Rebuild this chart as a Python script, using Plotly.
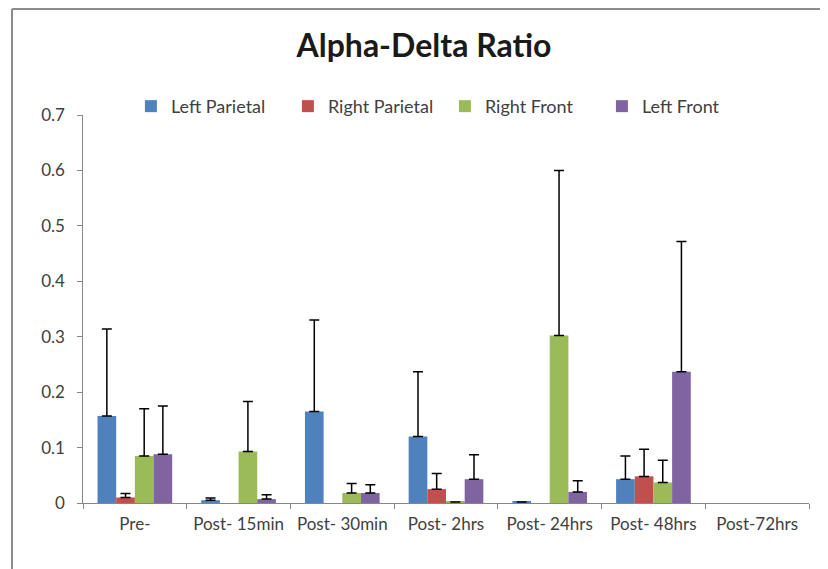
import plotly.graph_objects as go

categories = ["Pre-", "Post- 15min", "Post- 30min", "Post- 2hrs", "Post- 24hrs", "Post- 48hrs", "Post-72hrs"]
series_names = ["Left Parietal", "Right Parietal", "Right Front", "Left Front"]

left_parietal = [0.157, 0.005, 0.165, 0.120, 0.002, 0.043, None]
left_parietal_err = [0.157, 0.004, 0.165, 0.117, None, 0.042, None]

right_parietal = [0.010, None, None, 0.025, None, 0.048, None]
right_parietal_err = [0.007, None, None, 0.028, None, 0.049, None]

right_front = [0.085, 0.093, 0.018, 0.002, 0.302, 0.037, None]
right_front_err = [0.085, 0.090, 0.017, None, 0.298, 0.040, None]

left_front = [0.088, 0.007, 0.018, 0.043, 0.020, 0.237, None]
left_front_err = [0.087, 0.008, 0.015, 0.044, 0.020, 0.235, None]

values = [left_parietal, right_parietal, right_front, left_front]
errors = [left_parietal_err, right_parietal_err, right_front_err, left_front_err]
colors = ["#4F81BD", "#C0504D", "#9BBB59", "#8064A2"]

font_family = "Lato, 'Open Sans', sans-serif"

ML, MR, MT, MB = 75, 27, 107, 74
PW, PH = 828 - ML - MR, 569 - MT - MB

fig = go.Figure()
for name, vals, errs, col in zip(series_names, values, errors, colors):
    fig.add_trace(go.Bar(
        x=categories, y=vals, name=name,
        marker=dict(color=col, line=dict(width=0)),
        error_y=dict(type="data", symmetric=False, array=errs,
                     arrayminus=[0] * len(vals), color="black",
                     thickness=1.5, width=5),
    ))

fig.update_layout(
    width=828, height=569,
    paper_bgcolor="white", plot_bgcolor="white",
    margin=dict(l=ML, r=MR, t=MT, b=MB, autoexpand=False),
    barmode="group", bargap=0.28, bargroupgap=0,
    font=dict(family=font_family, size=17, color="#404040"),
    title=dict(text="<b>Alpha-Delta Ratio</b>", x=(424 - 8) / 828, xref="container", xanchor="center",
               y=1 - 38 / 569, yref="container", yanchor="middle",
               font=dict(family=font_family, size=32, color="#1a1a1a")),
    legend=dict(orientation="h", x=0.066, xanchor="left", y=1.022, yanchor="middle",
                font=dict(size=18, color="#404040"), itemwidth=30,
                traceorder="normal", entrywidth=112, entrywidthmode="pixels"),
    xaxis=dict(showline=True, linecolor="#868686", linewidth=1,
               ticks="outside", tickson="boundaries", ticklen=5, tickcolor="#868686",
               showgrid=False, tickfont=dict(size=17, color="#404040"),
               ticklabelstandoff=6),
    yaxis=dict(range=[0, 0.7], dtick=0.1, showline=True, linecolor="#868686", linewidth=1,
               ticks="outside", ticklen=5, tickcolor="#868686", showgrid=False,
               zeroline=False, tickformat=".1~f", tickfont=dict(size=17, color="#404040"),
               ticksuffix="  "),
    shapes=[
        dict(type="line", xref="paper", yref="paper",
             x0=(4 - ML) / PW, x1=1.2, y0=(569 - MB - 1) / PH, y1=(569 - MB - 1) / PH,
             line=dict(color="#8c8c8c", width=2)),
        dict(type="line", xref="paper", yref="paper",
             x0=(4 - ML) / PW, x1=(4 - ML) / PW, y0=-0.3, y1=(569 - MB - 1) / PH,
             line=dict(color="#8c8c8c", width=2)),
    ],
)

fig.write_html("out.html")
